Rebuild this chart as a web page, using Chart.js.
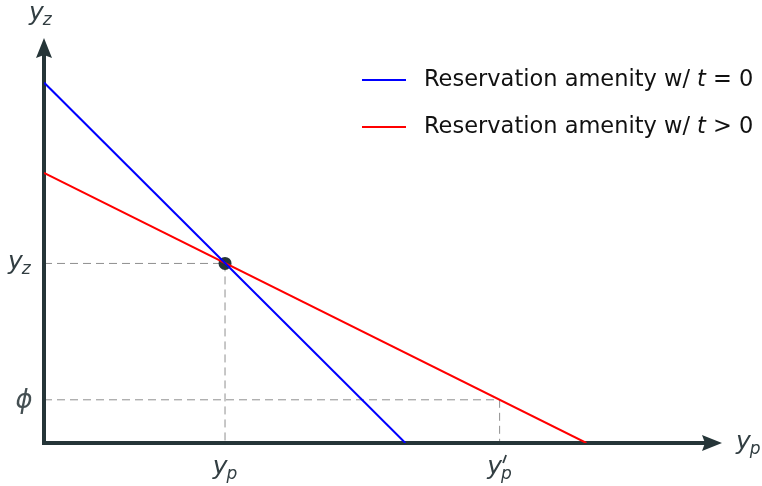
<!DOCTYPE html>
<html>
<head>
<meta charset="utf-8">
<script src="https://cdn.jsdelivr.net/npm/chart.js@4.4.1/dist/chart.umd.min.js"></script>
<style>
  html, body { margin: 0; padding: 0; background: #fff; }
  #wrap { width: 762px; height: 486px; }
</style>
</head>
<body>
<div id="wrap"><canvas id="chart" width="762" height="486"></canvas></div>
<script>
// values (axis units: y_p across, y_z up)
const blueLine = [{ x: 0, y: 5.34 }, { x: 5.33, y: 0 }];   // t = 0
const redLine = [{ x: 0, y: 4.0 }, { x: 8.0, y: 0 }];      // t > 0
const eqPoint = { x: 2.67, y: 2.66 };
const phiLevel = 0.64;
const yPrime = 6.72;
const legendLabels = ['Reservation amenity w/ ', 'Reservation amenity w/ '];
const legendTails = [' = 0', ' > 0'];

const AXIS = '#253538';
const TXT = '#323e42';
const FONT = '"DejaVu Sans", sans-serif';

// y with subscript, italic
function subLabel(ctx, x, y, sub, prime, align) {
    ctx.save();
    ctx.fillStyle = TXT;
    ctx.strokeStyle = TXT;
    ctx.textBaseline = 'alphabetic';
    ctx.font = 'italic 25px ' + FONT;
    const w1 = ctx.measureText('y').width;
    ctx.font = 'italic 17px ' + FONT;
    const w2 = ctx.measureText(sub).width;
    const total = w1 + w2 - 1;
    let sx = x;
    if (align === 'center') sx = x - total / 2;
    if (align === 'right') sx = x - total;
    ctx.font = 'italic 25px ' + FONT;
    ctx.textAlign = 'left';
    ctx.fillText('y', sx, y);
    ctx.font = 'italic 17px ' + FONT;
    ctx.fillText(sub, sx + w1 - 1, y + 5);
    if (prime) {
        ctx.lineWidth = 1.8;
        ctx.beginPath();
        ctx.moveTo(sx + w1 + 4, y - 19);
        ctx.lineTo(sx + w1 + 1, y - 11);
        ctx.stroke();
    }
    ctx.restore();
}

const decorPlugin = {
    id: 'decor',
    beforeDatasetsDraw(chart) {
        const { ctx, scales: { x, y } } = chart;
        const x0 = x.getPixelForValue(0), y0 = y.getPixelForValue(0);
        const px = x.getPixelForValue(eqPoint.x), py = y.getPixelForValue(eqPoint.y);
        const pp = x.getPixelForValue(yPrime), ph = y.getPixelForValue(phiLevel);
        ctx.save();
        ctx.strokeStyle = '#8f8f8f';
        ctx.lineWidth = 1;
        ctx.setLineDash([8, 5]);
        ctx.beginPath();
        ctx.moveTo(x0, py); ctx.lineTo(px, py);
        ctx.moveTo(px, py); ctx.lineTo(px, y0);
        ctx.moveTo(x0, ph); ctx.lineTo(pp, ph);
        ctx.moveTo(pp, ph); ctx.lineTo(pp, y0);
        ctx.stroke();
        ctx.restore();

        // axes
        const top = chart.chartArea.top, right = chart.chartArea.right;
        ctx.save();
        ctx.strokeStyle = AXIS;
        ctx.fillStyle = AXIS;
        ctx.lineWidth = 4;
        ctx.beginPath();
        ctx.moveTo(x0, y0 + 2); ctx.lineTo(x0, top + 14);
        ctx.moveTo(x0 - 2, y0); ctx.lineTo(right - 14, y0);
        ctx.stroke();
        ctx.beginPath();
        ctx.moveTo(x0, top);
        ctx.lineTo(x0 + 8, top + 20);
        ctx.lineTo(x0, top + 17);
        ctx.lineTo(x0 - 8, top + 20);
        ctx.closePath();
        ctx.fill();
        ctx.beginPath();
        ctx.moveTo(right, y0);
        ctx.lineTo(right - 20, y0 - 8);
        ctx.lineTo(right - 17, y0);
        ctx.lineTo(right - 20, y0 + 8);
        ctx.closePath();
        ctx.fill();
        ctx.restore();
    },
    afterDatasetsDraw(chart) {
        const { ctx, scales: { x, y } } = chart;
        const y0 = y.getPixelForValue(0);
        const px = x.getPixelForValue(eqPoint.x), py = y.getPixelForValue(eqPoint.y);
        const pp = x.getPixelForValue(yPrime), ph = y.getPixelForValue(phiLevel);
        const right = chart.chartArea.right;

        subLabel(ctx, 29, 20, 'z', false, 'left');
        subLabel(ctx, 8, py + 6, 'z', false, 'left');
        subLabel(ctx, px, y0 + 31, 'p', false, 'center');
        subLabel(ctx, pp, y0 + 31, 'p', true, 'center');
        subLabel(ctx, right + 14, y0 + 6, 'p', false, 'left');

        ctx.save();
        ctx.fillStyle = '#444f52';
        ctx.font = 'italic 26px ' + FONT;
        ctx.textAlign = 'center';
        ctx.textBaseline = 'middle';
        ctx.fillText('\u03d5', 24, ph + 1);
        ctx.restore();

        // legend
        const cols = ['#0000ff', '#ff0000'];
        const rowsY = [80, 127];
        ctx.save();
        for (let i = 0; i < 2; i++) {
            ctx.strokeStyle = cols[i];
            ctx.lineWidth = 2;
            ctx.beginPath();
            ctx.moveTo(362, rowsY[i]); ctx.lineTo(406, rowsY[i]);
            ctx.stroke();
            ctx.fillStyle = '#111';
            ctx.textBaseline = 'middle';
            ctx.textAlign = 'left';
            let tx = 424;
            ctx.font = '22.5px ' + FONT;
            ctx.fillText(legendLabels[i], tx, rowsY[i]);
            tx += ctx.measureText(legendLabels[i]).width;
            ctx.font = 'italic 22.5px ' + FONT;
            ctx.fillText('t', tx, rowsY[i]);
            tx += ctx.measureText('t').width;
            ctx.font = '22.5px ' + FONT;
            ctx.fillText(legendTails[i], tx, rowsY[i]);
        }
        ctx.restore();
    }
};

new Chart(document.getElementById('chart').getContext('2d'), {
    type: 'scatter',
    data: {
        datasets: [
            { label: 't = 0', data: blueLine, showLine: true, borderColor: '#0000ff', borderWidth: 2, pointRadius: 0, fill: false },
            { label: 't > 0', data: redLine, showLine: true, borderColor: '#ff0000', borderWidth: 2, pointRadius: 0, fill: false },
            { label: 'eq', data: [eqPoint], pointRadius: 6.5, pointBackgroundColor: AXIS, pointBorderColor: AXIS, pointBorderWidth: 0 }
        ]
    },
    options: {
        responsive: false,
        animation: false,
        layout: { padding: { left: 44, right: 40, top: 38, bottom: 43 } },
        plugins: { legend: { display: false }, tooltip: { enabled: false } },
        scales: {
            x: { type: 'linear', min: 0, max: 10, display: false },
            y: { type: 'linear', min: 0, max: 6, display: false }
        }
    },
    plugins: [decorPlugin]
});
</script>
</body>
</html>
